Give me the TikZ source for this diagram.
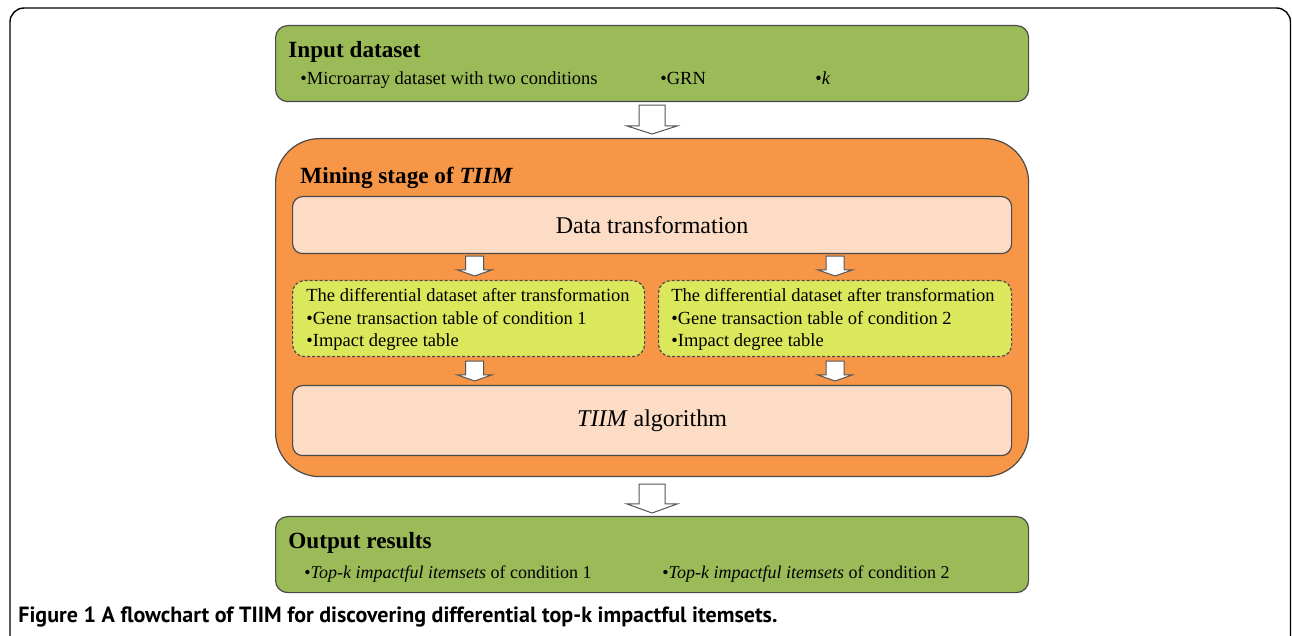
\documentclass[tikz,border=0pt]{standalone}
\usepackage{fontspec}
\setmainfont{Liberation Serif}
\newfontfamily\capfont{PT Sans}
\usetikzlibrary{calc}
\definecolor{ogreen}{HTML}{9BBB59}
\definecolor{oorange}{HTML}{F79646}
\definecolor{peach}{HTML}{FCDCC4}
\definecolor{ylw}{HTML}{DCE85C}
\definecolor{edgec}{HTML}{4A4A4A}
\definecolor{arrowc}{HTML}{555555}
\newcommand\blockarrow[5]{%
  \draw[barrowst] let \p1=(#1), \p2=(#2) in
   (\x1-#3,\y1) -- (\x1+#3,\y1) -- (\x1+#3,\y2+#5) -- (\x1+#4,\y2+#5) -- (\x1,\y2)
   -- (\x1-#4,\y2+#5) -- (\x1-#3,\y2+#5) -- cycle;}
\begin{document}
\begin{tikzpicture}[x=0.5pt,y=-0.5pt,
  boxbase/.style={draw=edgec, line width=0.6pt, anchor=north west, inner sep=0pt},
  greenbox/.style={boxbase, fill=ogreen, rounded corners=6pt, minimum width=376.5pt, minimum height=38pt},
  orangebox/.style={boxbase, fill=oorange, rounded corners=22pt, minimum width=376.5pt, minimum height=169pt},
  peachbox/.style={boxbase, fill=peach, rounded corners=5pt, minimum width=359.5pt, font=\fontsize{12}{14}\selectfont},
  ylwbox/.style={boxbase, fill=ylw, dashed, dash pattern=on 1.5pt off 1pt, rounded corners=6pt, minimum height=38pt},
  titletext/.style={anchor=base west, inner sep=0pt, font=\fontsize{11.6}{13}\selectfont\bfseries},
  bodytext/.style={anchor=base west, inner sep=0pt, font=\fontsize{9.25}{11}\selectfont},
  outtext/.style={anchor=base west, inner sep=0pt, font=\fontsize{9}{11}\selectfont},
  barrowst/.style={draw=arrowc, fill=white, line width=0.5pt, line join=miter}
]
\useasboundingbox (0,0) rectangle (1292,636);
% outer frame
\draw[line width=0.7pt, rounded corners=7pt] (10,680) -- (10,8) -- (1290.5,8) -- (1290.5,680);

% input
\node[greenbox] (in) at (275,25) {};
\node[titletext] (intitle) at (288,58) {Input dataset};
\node[bodytext] (in1) at (300,85) {\textbullet Microarray dataset with two conditions};
\node[bodytext] (in2) at (660,85) {\textbullet GRN};
\node[bodytext] (in3) at (815,85) {\textbullet\textit{k}};

% mining stage
\node[orangebox] (mine) at (275,138) {};
\node[titletext] (minetitle) at (300,184) {Mining stage of \textit{TIIM}};
\node[peachbox, minimum height=28.5pt] (dt) at (292,196) {Data transformation};
\node[ylwbox, minimum width=176pt] (y1) at (292,280) {};
\node[ylwbox, minimum width=176.5pt] (y2) at (658,280) {};
\node[bodytext] (y1a) at (306,302) {The differential dataset after transformation};
\node[bodytext] (y1b) at (306,325) {\textbullet Gene transaction table of condition 1};
\node[bodytext] (y1c) at (306,347) {\textbullet Impact degree table};
\node[bodytext] (y2a) at (671,302) {The differential dataset after transformation};
\node[bodytext] (y2b) at (671,325) {\textbullet Gene transaction table of condition 2};
\node[bodytext] (y2c) at (671,347) {\textbullet Impact degree table};
\node[peachbox, minimum height=35pt] (alg) at (292,385) {\textit{TIIM} algorithm};

% output
\node[greenbox] (out) at (275,516) {};
\node[titletext] (outtitle) at (288,548) {Output results};
\node[outtext] (out1) at (304,578) {\textbullet\textit{Top-k impactful itemsets} of condition 1};
\node[outtext] (out2) at (662,578) {\textbullet\textit{Top-k impactful itemsets} of condition 2};

% caption
\node[anchor=base west, inner sep=0pt] (cap) at (18,622) {\resizebox{379.5pt}{!}{\capfont\bfseries Figure 1 A flowchart of TIIM for discovering differential top-k impactful itemsets.}};

% arrows
\coordinate (a1t) at ($(in.south)+(0,3)$);
\coordinate (a1b) at ($(mine.north)+(0,-4)$);
\blockarrow{a1t}{a1b}{6.5pt}{12.5pt}{4pt}
\coordinate (a2t) at ($(y1.north |- dt.south)+(6,2)$);
\coordinate (a2b) at ($(y1.north)+(6,-4)$);
\blockarrow{a2t}{a2b}{4.5pt}{8.5pt}{3pt}
\coordinate (a3t) at ($(y2.north |- dt.south)+(0,2)$);
\coordinate (a3b) at ($(y2.north)+(0,-4)$);
\blockarrow{a3t}{a3b}{4.5pt}{8.5pt}{3pt}
\coordinate (a4t) at ($(y1.south)+(6,4)$);
\coordinate (a4b) at ($(alg.north -| y1.south)+(6,-4)$);
\blockarrow{a4t}{a4b}{4.5pt}{8.5pt}{3pt}
\coordinate (a5t) at ($(y2.south)+(0,4)$);
\coordinate (a5b) at ($(alg.north -| y2.south)+(0,-4)$);
\blockarrow{a5t}{a5b}{4.5pt}{8.5pt}{3pt}
\coordinate (a6t) at ($(mine.south)+(0,7)$);
\coordinate (a6b) at ($(out.north)+(0,-3)$);
\blockarrow{a6t}{a6b}{6.5pt}{12.5pt}{4.5pt}
\end{tikzpicture}
\end{document}
